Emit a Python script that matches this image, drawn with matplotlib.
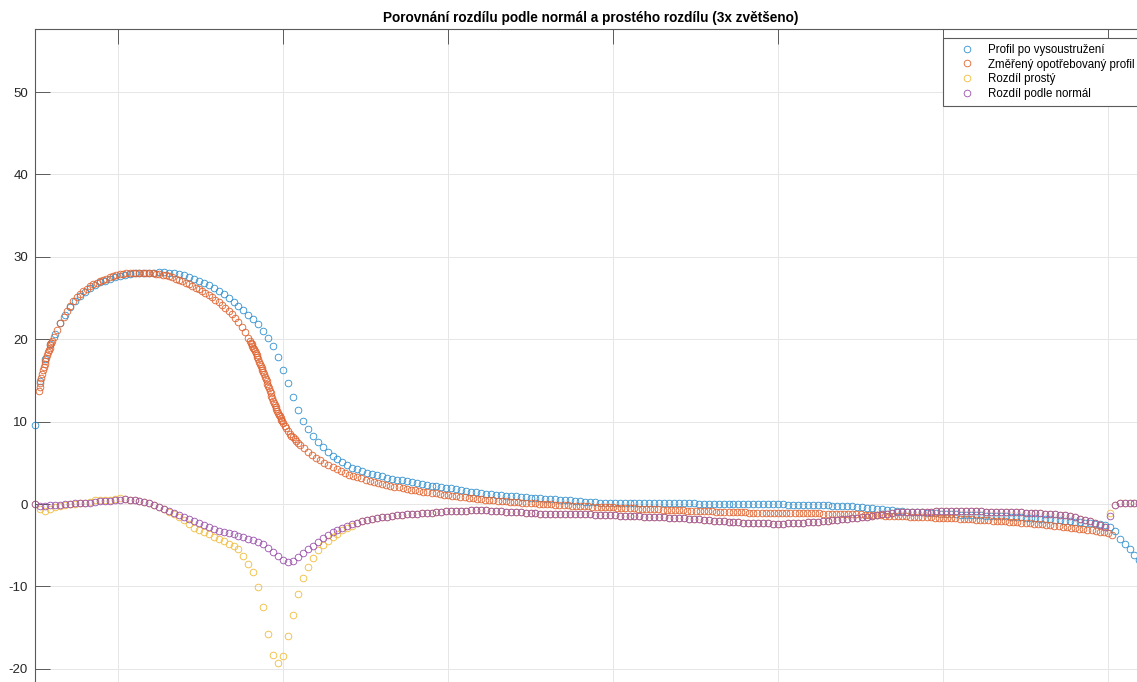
import matplotlib
matplotlib.use('Agg')
import matplotlib.pyplot as plt

plt.rcParams['font.family'] = ['Liberation Sans', 'DejaVu Sans']
plt.rcParams['axes.unicode_minus'] = False

# souradnice profilu po vysoustruzeni (spolecne i pro oba rozdily)
x_profil = [
    5.0, 5.3, 5.6, 5.9, 6.2, 6.5, 6.8, 7.1, 7.4, 7.7,
    8.0, 8.3, 8.6, 8.9, 9.2, 9.5, 9.8, 10.1, 10.4, 10.7,
    11.0, 11.3, 11.6, 11.9, 12.2, 12.5, 12.8, 13.1, 13.4, 13.7,
    14.0, 14.3, 14.6, 14.9, 15.2, 15.5, 15.8, 16.1, 16.4, 16.7,
    17.0, 17.3, 17.6, 17.9, 18.2, 18.5, 18.8, 19.1, 19.4, 19.7,
    20.0, 20.3, 20.6, 20.9, 21.2, 21.5, 21.8, 22.1, 22.4, 22.7,
    23.0, 23.3, 23.6, 23.9, 24.2, 24.5, 24.8, 25.1, 25.4, 25.7,
    26.0, 26.3, 26.6, 26.9, 27.2, 27.5, 27.8, 28.1, 28.4, 28.7,
    29.0, 29.3, 29.6, 29.9, 30.2, 30.5, 30.8, 31.1, 31.4, 31.7,
    32.0, 32.3, 32.6, 32.9, 33.2, 33.5, 33.8, 34.1, 34.4, 34.7,
    35.0, 35.3, 35.6, 35.9, 36.2, 36.5, 36.8, 37.1, 37.4, 37.7,
    38.0, 38.3, 38.6, 38.9, 39.2, 39.5, 39.8, 40.1, 40.4, 40.7,
    41.0, 41.3, 41.6, 41.9, 42.2, 42.5, 42.8, 43.1, 43.4, 43.7,
    44.0, 44.3, 44.6, 44.9, 45.2, 45.5, 45.8, 46.1, 46.4, 46.7,
    47.0, 47.3, 47.6, 47.9, 48.2, 48.5, 48.8, 49.1, 49.4, 49.7,
    50.0, 50.3, 50.6, 50.9, 51.2, 51.5, 51.8, 52.1, 52.4, 52.7,
    53.0, 53.3, 53.6, 53.9, 54.2, 54.5, 54.8, 55.1, 55.4, 55.7,
    56.0, 56.3, 56.6, 56.9, 57.2, 57.5, 57.8, 58.1, 58.4, 58.7,
    59.0, 59.3, 59.6, 59.9, 60.2, 60.5, 60.8, 61.1, 61.4, 61.7,
    62.0, 62.3, 62.6, 62.9, 63.2, 63.5, 63.8, 64.1, 64.4, 64.7,
    65.0, 65.3, 65.6, 65.9, 66.2, 66.5, 66.8, 67.1, 67.4, 67.7,
    68.0, 68.3, 68.6, 68.9, 69.2, 69.5, 69.8, 70.1, 70.4, 70.7,
    71.0, 71.3, 71.6, 71.9,
]

profil_vysoustruzeni = [
    9.6, 14.9, 17.6, 19.4, 20.7, 22.0, 23.0, 23.9, 24.6, 25.2,
    25.7, 26.2, 26.6, 26.9, 27.1, 27.3, 27.5, 27.7, 27.8, 27.9,
    28.0, 28.0, 28.05, 28.1, 28.1, 28.15, 28.15, 28.1, 28.0, 27.9,
    27.8, 27.6, 27.35, 27.1, 26.85, 26.55, 26.2, 25.8, 25.45, 25.0,
    24.55, 24.05, 23.55, 23.0, 22.4, 21.8, 21.05, 20.2, 19.2, 17.8,
    16.3, 14.65, 13.0, 11.45, 10.1, 9.1, 8.25, 7.5, 6.9, 6.35,
    5.85, 5.45, 5.05, 4.7, 4.4, 4.2, 4.0, 3.8, 3.65, 3.5,
    3.35, 3.22, 3.1, 2.98, 2.87, 2.75, 2.63, 2.51, 2.4, 2.32,
    2.24, 2.16, 2.08, 2.0, 1.91, 1.81, 1.71, 1.61, 1.51, 1.41,
    1.32, 1.26, 1.2, 1.14, 1.08, 1.02, 0.96, 0.93, 0.88, 0.84,
    0.79, 0.74, 0.7, 0.65, 0.61, 0.56, 0.52, 0.48, 0.44, 0.39,
    0.35, 0.31, 0.27, 0.22, 0.18, 0.17, 0.17, 0.16, 0.16, 0.15,
    0.15, 0.14, 0.14, 0.13, 0.12, 0.12, 0.11, 0.11, 0.1, 0.1,
    0.09, 0.09, 0.08, 0.08, 0.07, 0.06, 0.05, 0.05, 0.04, 0.03,
    0.02, 0.02, 0.01, 0.0, 0.0, 0.0, -0.01, -0.02, -0.02, -0.03,
    -0.04, -0.04, -0.05, -0.05, -0.06, -0.07, -0.09, -0.11, -0.13, -0.14,
    -0.16, -0.18, -0.2, -0.22, -0.23, -0.26, -0.33, -0.39, -0.45, -0.51,
    -0.57, -0.63, -0.69, -0.75, -0.82, -0.86, -0.9, -0.93, -0.97, -1.0,
    -1.04, -1.08, -1.11, -1.15, -1.18, -1.22, -1.24, -1.27, -1.29, -1.32,
    -1.34, -1.36, -1.39, -1.41, -1.44, -1.46, -1.5, -1.53, -1.57, -1.6,
    -1.64, -1.67, -1.71, -1.75, -1.78, -1.82, -1.88, -1.94, -2.0, -2.06,
    -2.12, -2.18, -2.24, -2.31, -2.36, -2.43, -2.55, -2.78, -3.3, -4.2,
    -4.9, -5.5, -6.2, -6.8,
]

rozdil_prosty = [
    0.0, -0.55, -0.85, -0.6, -0.4, -0.2, -0.1, 0.0, 0.05, 0.1,
    0.12, 0.2, 0.45, 0.55, 0.55, 0.55, 0.62, 0.7, 0.65, 0.55,
    0.45, 0.37, 0.25, 0.13, -0.1, -0.35, -0.65, -0.95, -1.25, -1.55,
    -1.95, -2.45, -2.85, -3.1, -3.35, -3.65, -3.95, -4.2, -4.5, -4.8,
    -5.1, -5.4, -6.25, -7.25, -8.3, -10.1, -12.5, -15.8, -18.3, -19.3,
    -18.4, -16.0, -13.4, -10.9, -8.95, -7.6, -6.6, -5.6, -5.0, -4.45,
    -4.03, -3.65, -3.2, -2.9, -2.65, -2.3, -2.1, -1.94, -1.85, -1.72,
    -1.6, -1.52, -1.45, -1.38, -1.31, -1.26, -1.21, -1.16, -1.14, -1.09,
    -1.04, -0.99, -0.93, -0.87, -0.84, -0.82, -0.8, -0.78, -0.76, -0.74,
    -0.74, -0.77, -0.81, -0.84, -0.88, -0.92, -0.95, -0.99, -1.02, -1.06,
    -1.09, -1.13, -1.16, -1.2, -1.21, -1.21, -1.21, -1.21, -1.21, -1.21,
    -1.21, -1.23, -1.26, -1.28, -1.31, -1.33, -1.36, -1.38, -1.41, -1.43,
    -1.46, -1.48, -1.5, -1.53, -1.55, -1.57, -1.6, -1.62, -1.65, -1.67,
    -1.7, -1.74, -1.78, -1.83, -1.87, -1.92, -1.96, -2.01, -2.05, -2.1,
    -2.14, -2.19, -2.23, -2.28, -2.31, -2.32, -2.33, -2.34, -2.35, -2.36,
    -2.37, -2.36, -2.33, -2.3, -2.27, -2.24, -2.21, -2.18, -2.12, -2.06,
    -2.0, -1.94, -1.88, -1.82, -1.76, -1.7, -1.64, -1.59, -1.51, -1.42,
    -1.33, -1.24, -1.15, -1.06, -0.97, -0.96, -0.95, -0.94, -0.93, -0.92,
    -0.91, -0.9, -0.89, -0.87, -0.86, -0.85, -0.85, -0.86, -0.86, -0.87,
    -0.88, -0.89, -0.9, -0.91, -0.92, -0.93, -0.94, -0.95, -0.96, -0.99,
    -1.03, -1.06, -1.1, -1.13, -1.17, -1.2, -1.24, -1.27, -1.31, -1.43,
    -1.59, -1.75, -1.91, -2.07, -2.27, -2.53, -2.8, -1.1, -0.05, 0.1,
    0.12, 0.12, 0.12, 0.12,
]

rozdil_normal = [
    0.0, -0.24, -0.2, -0.12, -0.09, -0.06, -0.02, 0.03, 0.08, 0.12,
    0.12, 0.12, 0.25, 0.36, 0.36, 0.36, 0.45, 0.55, 0.6, 0.55,
    0.45, 0.37, 0.25, 0.13, -0.1, -0.31, -0.55, -0.8, -1.04, -1.28,
    -1.53, -1.78, -2.02, -2.27, -2.59, -2.8, -3.02, -3.21, -3.37, -3.53,
    -3.69, -3.85, -4.01, -4.19, -4.4, -4.63, -4.87, -5.35, -5.85, -6.33,
    -6.8, -7.06, -6.9, -6.47, -5.99, -5.5, -5.05, -4.58, -4.17, -3.8,
    -3.43, -3.15, -2.93, -2.68, -2.47, -2.29, -2.11, -1.94, -1.83, -1.72,
    -1.6, -1.52, -1.45, -1.38, -1.31, -1.26, -1.21, -1.16, -1.14, -1.09,
    -1.04, -0.99, -0.93, -0.87, -0.84, -0.82, -0.8, -0.78, -0.76, -0.74,
    -0.74, -0.77, -0.81, -0.84, -0.88, -0.92, -0.95, -0.99, -1.02, -1.06,
    -1.09, -1.13, -1.16, -1.2, -1.21, -1.21, -1.21, -1.21, -1.21, -1.21,
    -1.21, -1.23, -1.26, -1.28, -1.31, -1.33, -1.36, -1.38, -1.41, -1.43,
    -1.46, -1.48, -1.5, -1.53, -1.55, -1.57, -1.6, -1.62, -1.65, -1.67,
    -1.7, -1.74, -1.78, -1.83, -1.87, -1.92, -1.96, -2.01, -2.05, -2.1,
    -2.14, -2.19, -2.23, -2.28, -2.31, -2.32, -2.33, -2.34, -2.35, -2.36,
    -2.37, -2.36, -2.33, -2.3, -2.27, -2.24, -2.21, -2.18, -2.12, -2.06,
    -2.0, -1.94, -1.88, -1.82, -1.76, -1.7, -1.64, -1.59, -1.51, -1.42,
    -1.33, -1.24, -1.15, -1.06, -0.97, -0.96, -0.95, -0.94, -0.93, -0.92,
    -0.91, -0.9, -0.89, -0.87, -0.86, -0.85, -0.85, -0.86, -0.86, -0.87,
    -0.88, -0.89, -0.9, -0.91, -0.92, -0.93, -0.94, -0.95, -0.96, -0.99,
    -1.03, -1.06, -1.1, -1.13, -1.17, -1.2, -1.24, -1.27, -1.31, -1.43,
    -1.59, -1.75, -1.91, -2.07, -2.27, -2.53, -2.8, -1.5, -0.05, 0.1,
    0.12, 0.12, 0.12, 0.12,
]

# zmereny profil je navzorkovany husteji
x_zmereny = [
    5.2, 5.25, 5.3, 5.35, 5.4, 5.45, 5.5, 5.55, 5.6, 5.65,
    5.7, 5.75, 5.8, 5.85, 5.9, 5.95, 6.0,
    6.1, 6.3, 6.5, 6.7, 6.9, 7.1, 7.3, 7.5, 7.7, 7.9,
    8.1, 8.3, 8.5, 8.7, 8.9, 9.1, 9.3, 9.5, 9.7, 9.9,
    10.1, 10.3, 10.5, 10.7, 10.9, 11.1, 11.3, 11.5, 11.7, 11.9,
    12.1, 12.3, 12.5, 12.7, 12.9, 13.1, 13.3, 13.5, 13.7, 13.9,
    14.1, 14.3, 14.5, 14.7, 14.9, 15.1, 15.3, 15.5, 15.7, 15.9,
    16.1, 16.3, 16.5, 16.7, 16.9, 17.1, 17.3, 17.5, 17.7, 17.9,
    18.0, 18.05, 18.1, 18.15, 18.2, 18.25, 18.3, 18.35, 18.4, 18.45,
    18.5, 18.55, 18.6, 18.65, 18.7, 18.75, 18.8, 18.85, 18.9, 18.95,
    19.0, 19.05, 19.1, 19.15, 19.2, 19.25, 19.3, 19.35, 19.4, 19.45,
    19.5, 19.55, 19.6, 19.65, 19.7, 19.75, 19.8, 19.85, 19.9, 19.95,
    20.0, 20.1, 20.2, 20.3, 20.4, 20.5, 20.6, 20.7, 20.8, 20.9, 21.0,
    21.25, 21.5, 21.75, 22.0, 22.25, 22.5, 22.75, 23.0, 23.25, 23.5,
    23.75, 24.0, 24.25, 24.5, 24.75, 25.0, 25.25, 25.5, 25.75, 26.0,
    26.25, 26.5, 26.75, 27.0, 27.25, 27.5, 27.75, 28.0, 28.25, 28.5,
    28.75, 29.0, 29.25, 29.5, 29.75, 30.0, 30.25, 30.5, 30.75, 31.0,
    31.25, 31.5, 31.75, 32.0, 32.25, 32.5, 32.75, 33.0, 33.25, 33.5,
    33.75, 34.0, 34.25, 34.5, 34.75, 35.0, 35.25, 35.5, 35.75, 36.0,
    36.25, 36.5, 36.75, 37.0, 37.25, 37.5, 37.75, 38.0, 38.25, 38.5,
    38.75, 39.0, 39.25, 39.5, 39.75, 40.0, 40.25, 40.5, 40.75, 41.0,
    41.25, 41.5, 41.75, 42.0, 42.25, 42.5, 42.75, 43.0, 43.25, 43.5,
    43.75, 44.0, 44.25, 44.5, 44.75, 45.0, 45.25, 45.5, 45.75, 46.0,
    46.25, 46.5, 46.75, 47.0, 47.25, 47.5, 47.75, 48.0, 48.25, 48.5,
    48.75, 49.0, 49.25, 49.5, 49.75, 50.0, 50.25, 50.5, 50.75, 51.0,
    51.25, 51.5, 51.75, 52.0, 52.25, 52.5, 52.75, 53.0, 53.25, 53.5,
    53.75, 54.0, 54.25, 54.5, 54.75, 55.0, 55.25, 55.5, 55.75, 56.0,
    56.25, 56.5, 56.75, 57.0, 57.25, 57.5, 57.75, 58.0, 58.25, 58.5,
    58.75, 59.0, 59.25, 59.5, 59.75, 60.0, 60.25, 60.5, 60.75, 61.0,
    61.25, 61.5, 61.75, 62.0, 62.25, 62.5, 62.75, 63.0, 63.25, 63.5,
    63.75, 64.0, 64.25, 64.5, 64.75, 65.0, 65.25, 65.5, 65.75, 66.0,
    66.25, 66.5, 66.75, 67.0, 67.25, 67.5, 67.75, 68.0, 68.25, 68.5,
    68.75, 69.0, 69.25, 69.5, 69.75, 70.0, 70.25,
]

zmereny_profil = [
    13.75, 14.25, 14.75, 15.25, 15.75, 16.25, 16.65, 17.0, 17.4, 17.78,
    18.1, 18.4, 18.7, 19.0, 19.27, 19.5, 19.75,
    20.25, 21.15, 22.03, 22.75, 23.42, 24.06, 24.63, 25.1, 25.49, 25.82,
    26.14, 26.46, 26.65, 26.85, 27.05, 27.21, 27.37, 27.53, 27.66, 27.78,
    27.9, 27.94, 27.99, 28.03, 28.05, 28.07, 28.09, 28.07, 28.06, 28.04,
    28.0, 27.96, 27.92, 27.84, 27.74, 27.64, 27.51, 27.37, 27.22, 27.05,
    26.87, 26.69, 26.49, 26.27, 26.05, 25.81, 25.57, 25.34, 25.07, 24.79,
    24.5, 24.17, 23.82, 23.46, 23.03, 22.55, 22.06, 21.5, 20.85, 20.2,
    19.78, 19.58, 19.38, 19.17, 18.97, 18.77, 18.57, 18.32, 18.06, 17.8,
    17.55, 17.29, 17.04, 16.78, 16.51, 16.25, 15.99, 15.73, 15.46, 15.18,
    14.9, 14.61, 14.33, 14.05, 13.77, 13.47, 13.17, 12.87, 12.56, 12.26,
    12.02, 11.77, 11.53, 11.28, 11.04, 10.84, 10.64, 10.44, 10.23, 10.03,
    9.83, 9.51, 9.2, 8.88, 8.56, 8.32, 8.1, 7.89, 7.67, 7.45, 7.23,
    6.79, 6.37, 5.95, 5.62, 5.32, 5.02, 4.73, 4.47, 4.23, 4.0,
    3.76, 3.57, 3.42, 3.27, 3.11, 2.96, 2.81, 2.66, 2.51, 2.39,
    2.3, 2.2, 2.11, 2.02, 1.93, 1.84, 1.75, 1.66, 1.59, 1.52,
    1.44, 1.37, 1.29, 1.22, 1.15, 1.08, 1.02, 0.96, 0.9, 0.84,
    0.78, 0.72, 0.66, 0.6, 0.55, 0.51, 0.46, 0.41, 0.37, 0.32,
    0.28, 0.23, 0.2, 0.17, 0.14, 0.12, 0.09, 0.06, 0.03, 0.0,
    -0.03, -0.06, -0.09, -0.12, -0.15, -0.18, -0.21, -0.24, -0.26, -0.28,
    -0.31, -0.33, -0.35, -0.37, -0.39, -0.41, -0.44, -0.46, -0.48, -0.5,
    -0.52, -0.55, -0.57, -0.59, -0.61, -0.63, -0.65, -0.67, -0.69, -0.71,
    -0.73, -0.75, -0.77, -0.79, -0.81, -0.83, -0.85, -0.86, -0.88, -0.89,
    -0.91, -0.92, -0.94, -0.95, -0.97, -0.98, -1.0, -1.01, -1.03, -1.03,
    -1.04, -1.04, -1.05, -1.05, -1.06, -1.06, -1.07, -1.07, -1.08, -1.08,
    -1.09, -1.1, -1.11, -1.12, -1.13, -1.14, -1.15, -1.16, -1.17, -1.18,
    -1.19, -1.2, -1.21, -1.22, -1.24, -1.26, -1.28, -1.3, -1.33, -1.35,
    -1.37, -1.39, -1.41, -1.43, -1.45, -1.47, -1.49, -1.51, -1.53, -1.55,
    -1.57, -1.59, -1.61, -1.63, -1.65, -1.67, -1.69, -1.71, -1.74, -1.77,
    -1.8, -1.83, -1.86, -1.89, -1.92, -1.95, -1.98, -2.01, -2.04, -2.07,
    -2.11, -2.15, -2.19, -2.23, -2.27, -2.31, -2.35, -2.39, -2.43, -2.47,
    -2.51, -2.55, -2.61, -2.68, -2.74, -2.8, -2.86, -2.93, -2.99, -3.05,
    -3.12, -3.18, -3.26, -3.33, -3.42, -3.55, -3.72,
]

popisky = ['Profil po vysoustružení', 'Změřený opotřebovaný profil',
           'Rozdíl prostý', 'Rozdíl podle normál']
barvy = ['#2f8fd0', '#e0622e', '#f0bb3c', '#9a50ab']

fig = plt.figure(figsize=(11.37, 6.82), dpi=100)
# osy jsou vetsi nez obrazek, spodni a prava cast je oriznuta
ax = fig.add_axes([35 / 1137, 1 - 720 / 682, 1112 / 1137, 691 / 682])

rady = [
    (x_profil, profil_vysoustruzeni),
    (x_zmereny, zmereny_profil),
    (x_profil, rozdil_prosty),
    (x_profil, rozdil_normal),
]
for (xs, ys), barva, popis in zip(rady, barvy, popisky):
    ax.plot(xs, ys, 'o', mfc='none', mec=barva, ms=4.8, mew=0.6,
            clip_on=False, label=popis)

ax.set_xlim(4.97, 72.36)
ax.set_ylim(-26.2, 57.65)
ax.set_xticks([10, 20, 30, 40, 50, 60, 70])
ax.set_yticks([-20, -10, 0, 10, 20, 30, 40, 50])
ax.set_xticklabels([])
ax.grid(True, color='#e6e6e6', lw=0.7)
ax.set_axisbelow(True)
ax.tick_params(direction='in', length=11, width=0.7, color='#5a5a5a',
               labelsize=9.5, labelcolor='#262626', pad=5,
               top=True, right=False)
for sp in ax.spines.values():
    sp.set_color('#5a5a5a')
    sp.set_linewidth(0.8)

fig.text(591 / 1137, 1 - 18 / 682,
         'Porovnání rozdílu podle normál a prostého rozdílu (3x zvětšeno)',
         ha='center', va='center', fontsize=9.8, fontweight='bold')

# legenda ukotvena levym hornim rohem
leg = ax.legend(loc='upper left', bbox_to_anchor=(0.8165, 0.987),
                fontsize=8.3, fancybox=False, framealpha=1,
                edgecolor='#5a5a5a', borderaxespad=0, borderpad=0.5,
                labelspacing=0.24, handlelength=3.2, handletextpad=0.2)
leg.get_frame().set_linewidth(0.8)

plt.savefig('out.png', dpi=100)
